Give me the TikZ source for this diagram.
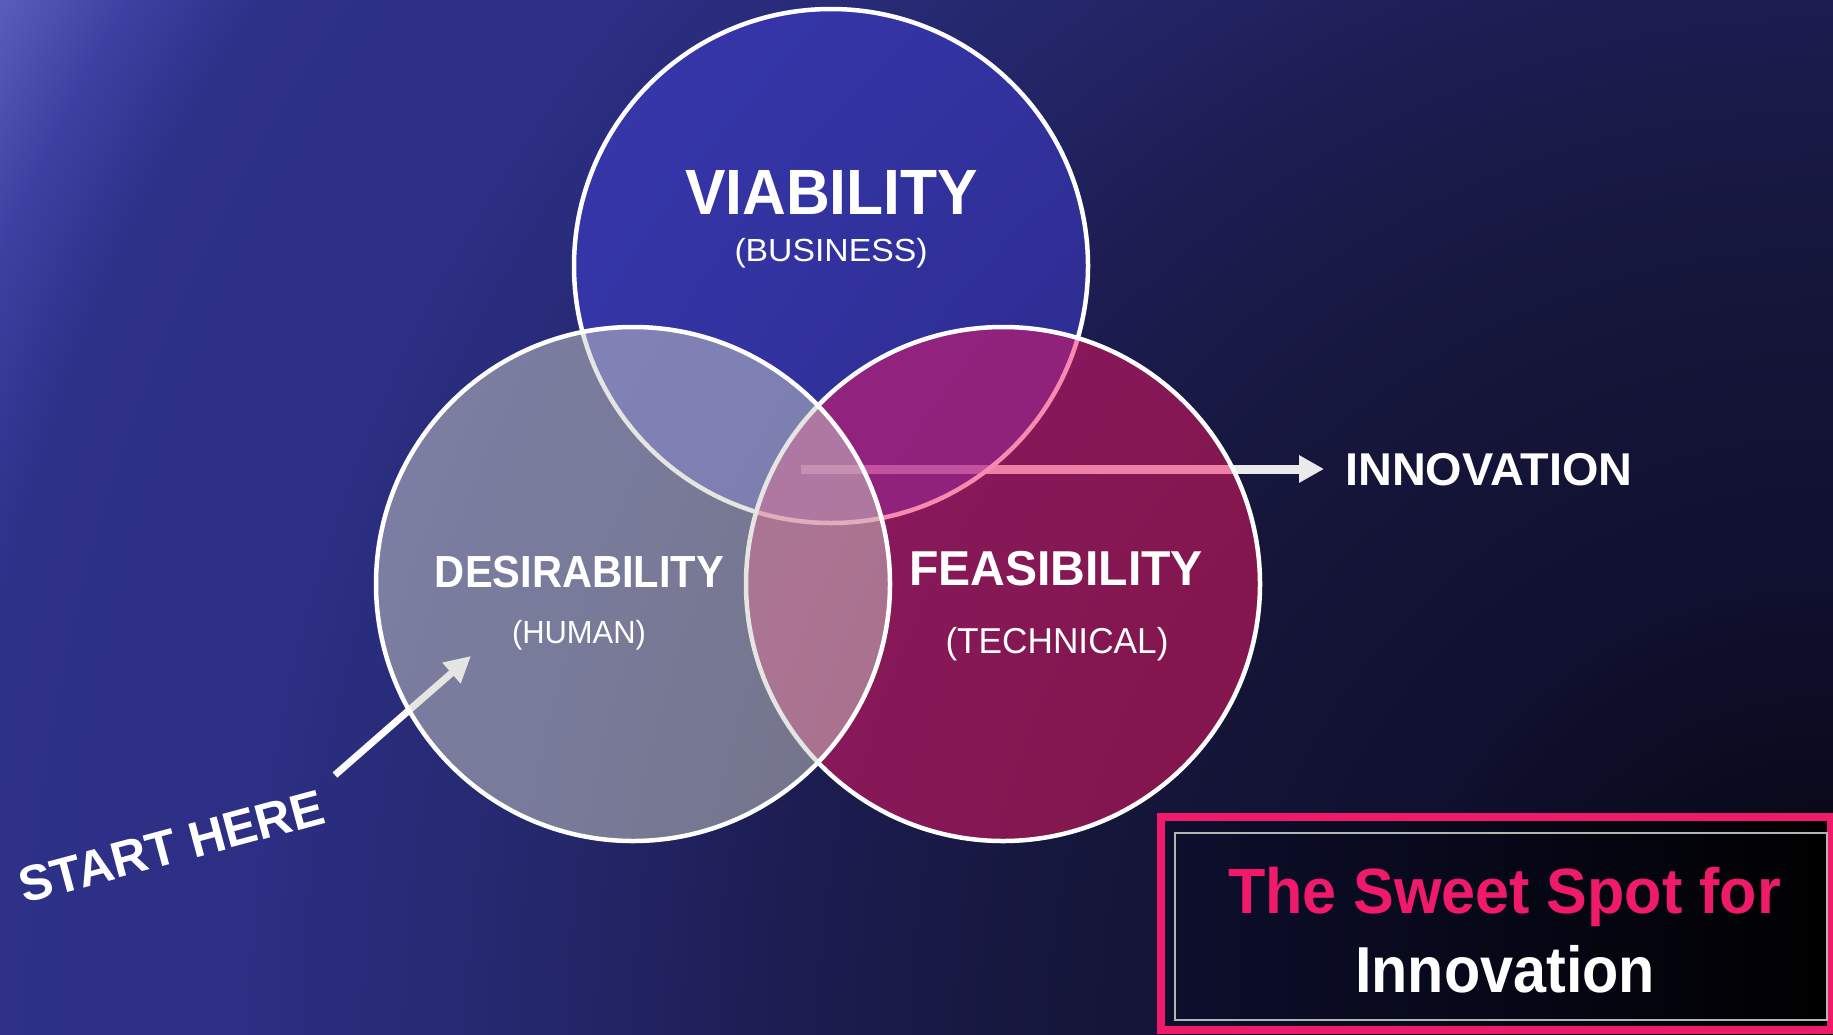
\documentclass[tikz,border=0pt]{standalone}
\usepackage{fontspec}
\setmainfont{Liberation Sans}
\usepackage{graphicx}
\usetikzlibrary{arrows.meta}

% backdrop tones, from the dark bottom-right corner outwards
\definecolor{bgA}{HTML}{030308}
\definecolor{bgB}{HTML}{101030}
\definecolor{bgC}{HTML}{15163A}
\definecolor{bgD}{HTML}{1C1C50}
\definecolor{bgE}{HTML}{25276C}
\definecolor{bgF}{HTML}{2C2F84}
\definecolor{bgG}{HTML}{2E3188}
\definecolor{bgH}{HTML}{3D40A0}
\definecolor{bgI}{HTML}{5A5DBB}

\definecolor{viabfill}{RGB}{64,62,208}
\definecolor{feasfill}{RGB}{242,23,100}
\definecolor{desfill}{RGB}{204,206,198}
\definecolor{hotpink}{HTML}{F01A6A}
\definecolor{arrowgray}{HTML}{EAEAEA}
\definecolor{framegray}{HTML}{B4B4B4}
\definecolor{boxleft}{HTML}{0D0F2E}

\pgfdeclareradialshading{backdrop}{\pgfpoint{0bp}{0bp}}{%
  color(0bp)=(bgA); color(5.46bp)=(bgB); color(9.03bp)=(bgC);
  color(12.28bp)=(bgD); color(15.44bp)=(bgE); color(19bp)=(bgF);
  color(22.33bp)=(bgG); color(23.63bp)=(bgH); color(25bp)=(bgI);
  color(50bp)=(bgI)}

% stretch or squeeze a label horizontally to a given width
\newcommand{\fitwidth}[2]{\resizebox{#1}{\height}{#2}}

\tikzset{
  ring/.style={circle, minimum size=514pt, inner sep=0pt, draw=white, line width=4.5pt},
  label/.style={text=white, inner sep=0pt, anchor=base},
  pointer/.style={draw=arrowgray, line cap=butt},
}

\begin{document}
\begin{tikzpicture}[x=1pt,y=-1pt]
\useasboundingbox (0,0) rectangle (1833,1034);

% backdrop
\begin{scope}
  \clip (0,0) rectangle (1833,1034);
  \shade[shading=backdrop] (1833,1034) circle[radius=2105];
\end{scope}

% caption panel
\shade[left color=boxleft, right color=black] (1161,817) rectangle (1833,1034);
\draw[hotpink, line width=8.5pt] (1161,817) rectangle (1831,1030);
\draw[framegray, line width=1.8pt] (1175,833) rectangle (1827,1020);
\node[label, text=hotpink, font=\fontsize{64}{70}\selectfont\bfseries] (sweet) at (1504.5,913)
  {\fitwidth{553pt}{The Sweet Spot for}};
\node[label, font=\fontsize{65}{70}\selectfont\bfseries] (capinnov) at (1505,992)
  {\fitwidth{300pt}{Innovation}};

% outcome label and its arrow (under the circles)
\node[label, anchor=base west, font=\fontsize{46}{50}\selectfont\bfseries] (innov) at (1345,485)
  {\fitwidth{287pt}{INNOVATION}};
\coordinate (innovtail) at (801,469);
\draw[pointer, line width=9pt, -{Triangle[length=25pt,width=26pt]}, shorten >=21pt]
  (innovtail) -- (innovtail -| innov.west);

% entry label and its arrow
\node[text=white, inner sep=0pt, rotate=15, font=\fontsize{50}{54}\selectfont\bfseries] (start) at (171.5,846.5)
  {\fitwidth{314pt}{START HERE}};
\coordinate (starttail) at (335,775);
\coordinate (starttip) at (471,656);
\draw[draw=white, line width=7pt, -{Triangle[length=26pt,width=26pt]}] (starttail) -- (starttip);

% the three circles
\node[ring, fill=viabfill, fill opacity=0.53] (viab) at (831,266) {};
\node[ring, fill=feasfill, fill opacity=0.5] (feas) at (1003,584) {};
\node[ring, fill=desfill, fill opacity=0.5] (desi) at (633,584) {};

% circle labels
\node[label, font=\fontsize{64}{70}\selectfont\bfseries] (viabt) at (831.5,214) {\fitwidth{293pt}{VIABILITY}};
\node[label, font=\fontsize{32}{36}\selectfont] (viabs) at (831,261) {\fitwidth{193pt}{(BUSINESS)}};
\node[label, font=\fontsize{45}{50}\selectfont\bfseries] (desit) at (579.5,587) {\fitwidth{289pt}{DESIRABILITY}};
\node[label, font=\fontsize{32}{36}\selectfont] (desis) at (579,643) {\fitwidth{134pt}{(HUMAN)}};
\node[label, font=\fontsize{49}{54}\selectfont\bfseries] (feast) at (1056,585) {\fitwidth{294pt}{FEASIBILITY}};
\node[label, font=\fontsize{36}{40}\selectfont] (feass) at (1057,653) {\fitwidth{223pt}{(TECHNICAL)}};
\end{tikzpicture}
\end{document}
